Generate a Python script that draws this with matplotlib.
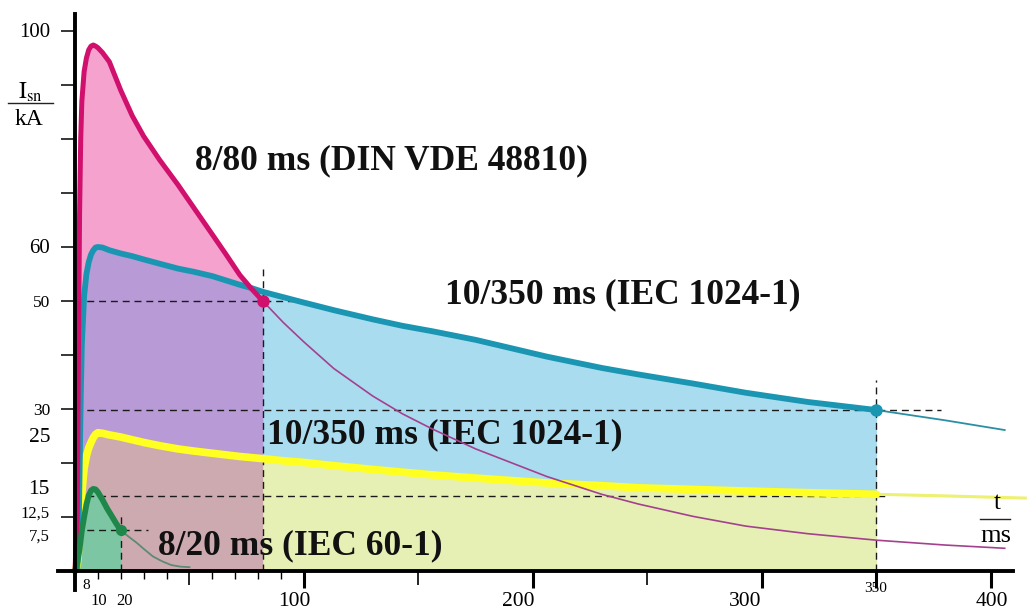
import matplotlib
matplotlib.use("Agg")
import matplotlib.pyplot as plt
from matplotlib.lines import Line2D
import numpy as np

# ---------------- data ----------------
t_ms = [0, 1, 1.5, 2, 2.5, 3, 4, 5, 6, 7, 8, 9, 10, 12, 15, 20, 25, 30, 37, 45,
        52, 60, 66, 72, 77, 82, 91, 100, 113, 130, 143, 156, 175, 206, 230, 246,
        270, 293, 320, 350, 380, 406, 415]
nan = float("nan")
i_8_80 = [0, 10, 40, 66, 80, 87, 92.5, 95, 96.5, 97.2, 97.4, 97.2, 96.9, 96, 94.3,
          89, 84.3, 80.5, 76.1, 71.5, 67.2, 62.3, 58.6, 54.8, 52.3, 50, 46, 42.4, 37.5,
          32.4, 29.1, 26.3, 22.6, 17.5, 14.2, 12.4, 10.1, 8.3, 6.9, 5.7, 4.8, 4.2, nan]
i_10_350 = [0, 0.5, 5, 18, 32, 42, 51, 55, 57.2, 58.6, 59.4, 59.9, 60, 59.9, 59.4,
            58.8, 58.3, 57.7, 56.9, 56, 55.4, 54.6, 53.8, 53, 52.4, 51.7, 50.7, 49.7,
            48.3, 46.6, 45.4, 44.4, 42.8, 39.7, 37.6, 36.4, 34.7, 33, 31.3, 29.8,
            27.9, 26.1, nan]
i_10_350_b = [0, 1, 3.5, 7, 11, 14.5, 19, 21.3, 22.8, 23.8, 24.7, 25.3, 25.6, 25.5,
              25.2, 24.8, 24.3, 23.8, 23.2, 22.6, 22.2, 21.8, 21.5, 21.2, 21.0, 20.8,
              20.4, 20.1, 19.5, 18.8, 18.3, 17.8, 17.2, 16.3, 15.8, 15.4, 15.1, 14.8,
              14.5, 14.2, 13.9, 13.6, 13.5]
t_green = [0, 1, 2, 3, 4, 5, 6, 7, 8, 9, 10, 12, 14, 16, 18, 20, 23, 27, 30, 34, 38,
           42, 46, 50]
i_8_20 = [0, 1.5, 4, 7.5, 10, 12.3, 14, 14.9, 15.2, 15.1, 14.6, 13.2, 11.6, 10.2, 8.8,
          7.5, 6.5, 5.2, 4.1, 2.7, 1.8, 1.1, 0.8, 0.7]

# characteristic points (marked points and the yellow end value)
key_t = [82, 350, 20, 350]
key_i = [50, 29.8, 7.5, 13.8]

# wave labels
wave_labels = ["8/80 ms (DIN VDE 48810)", "10/350 ms (IEC 1024-1)",
               "10/350 ms (IEC 1024-1)", "8/20 ms (IEC 60-1)"]

# axis labels / ticks
y_tick_vals = [10, 20, 30, 40, 50, 60, 70, 80, 90, 100]
y_labels = ["100", "60", "50", "30", "25", "15", "12,5", "7,5"]
y_label_at = [99.8, 59.8, 49.6, 29.6, 24.8, 15.0, 10.7, 6.3]
y_label_size = [15, 15, 12.5, 12.5, 15.5, 15.5, 12, 12]
x_major = [100, 200, 300, 350, 400]
x_mid = [50, 150, 250]
x_minor = [10, 20, 30, 40, 60, 70, 80, 90]
x_labels = ["100", "200", "300", "350", "400"]
x_label_at = [96, 193.5, 292.5, 349.5, 400.5]
x_small_labels = ["8", "10", "20"]
x_small_at = [4.8, 10.5, 21.5]

# ---------------- style ----------------
plt.rcParams["font.family"] = ["Liberation Serif", "DejaVu Serif"]
plt.rcParams["mathtext.fontset"] = "stix"

C_PINK_LINE = "#d0106c"
C_PINK_THIN = "#a3418f"
C_PINK_FILL = "#f5a3ce"
C_PURPLE = "#b79ad6"
C_BLUE_LINE = "#1b96b2"
C_BLUE_THIN = "#2a8fa3"
C_BLUE_FILL = "#aadcf0"
C_YEL_LINE = "#ffff22"
C_YEL_THIN = "#eef070"
C_MAUVE = "#cdaab0"
C_YEL_FILL = "#e6f0b4"
C_GREEN_LINE = "#1f874a"
C_GREEN_THIN = "#5d8a72"
C_GREEN_FILL = "#7cc6a4"

T = np.array(t_ms, dtype=float)
P = np.array(i_8_80, dtype=float)
B = np.array(i_10_350, dtype=float)
Y = np.array(i_10_350_b, dtype=float)
TG = np.array(t_green, dtype=float)
G = np.array(i_8_20, dtype=float)

fig = plt.figure(figsize=(10.3, 6.15), dpi=100)
ax = fig.add_axes([0.05612, 0.04, 0.94155, 0.95350])
ax.set_xlim(-7.5, 416)
ax.set_ylim(-3.6, 105)

t_half_p, t_end = key_t[0], key_t[1]
t_half_g = key_t[2]

# fills
ax.fill_between(T, 0, B, where=T <= t_end, color=C_BLUE_FILL, lw=0, zorder=1)
ax.fill_between(T, 0, P, where=T <= t_half_p, color=C_PINK_FILL, lw=0, zorder=2)
ax.fill_between(T, 0, np.minimum(P, B), where=T <= t_half_p, color=C_PURPLE, lw=0, zorder=3)
ax.fill_between(T, 0, Y, where=T <= t_half_p, color=C_MAUVE, lw=0, zorder=4)
ax.fill_between(T, 0, Y, where=(T >= t_half_p) & (T <= t_end), color=C_YEL_FILL, lw=0, zorder=4)
ax.fill_between(TG, 0, G, where=TG <= t_half_g, color=C_GREEN_FILL, lw=0, zorder=5)

# guide lines
dash = dict(color="#1a1a1a", lw=1.0, ls=(0, (5, 3.5)), zorder=9)
h_ext = [95, 378, 32, 355]
v_ext = [56, 35.4, 10.5]
for ti, ii, he in zip(key_t, key_i, h_ext):
    ax.plot([0, he], [ii, ii], **dash)
for ti, ve in zip(key_t[:3], v_ext):
    ax.plot([ti, ti], [0, ve], **dash)

# curves
m = T <= t_end
ax.plot(T[T >= t_end], Y[T >= t_end], color=C_YEL_THIN, lw=2.2, zorder=10)
ax.plot(T[m], Y[m], color=C_YEL_LINE, lw=5.5, zorder=11, solid_capstyle="round")
ax.plot(T[T >= t_end], B[T >= t_end], color=C_BLUE_THIN, lw=1.3, zorder=10)
ax.plot(T[m], B[m], color=C_BLUE_LINE, lw=4.2, zorder=12, solid_capstyle="round",
        solid_joinstyle="round")
ax.plot(T[T >= t_half_p], P[T >= t_half_p], color=C_PINK_THIN, lw=1.2, zorder=12)
ax.plot(T[T <= t_half_p], P[T <= t_half_p], color=C_PINK_LINE, lw=3.6, zorder=13,
        solid_capstyle="round", solid_joinstyle="round")
ax.plot(TG[TG >= t_half_g], G[TG >= t_half_g], color=C_GREEN_THIN, lw=1.3, zorder=12)
ax.plot(TG[TG <= t_half_g], G[TG <= t_half_g], color=C_GREEN_LINE, lw=4.2, zorder=13,
        solid_capstyle="round", solid_joinstyle="round")

# markers
ax.plot([key_t[0]], [key_i[0]], "o", color=C_PINK_LINE, ms=8, zorder=14)
ax.plot([key_t[1]], [key_i[1]], "o", color=C_BLUE_LINE, ms=8, zorder=14)
ax.plot([key_t[2]], [key_i[2]], "o", color=C_GREEN_LINE, ms=7, zorder=14)

# spines
for s in ("top", "right"):
    ax.spines[s].set_visible(False)
ax.spines["left"].set_position(("data", 0))
ax.spines["bottom"].set_position(("data", 0))
ax.spines["left"].set_bounds(-3.6, 103.2)
ax.spines["bottom"].set_bounds(-7.5, 409.6)
ax.spines["left"].set_linewidth(2.8)
ax.spines["bottom"].set_linewidth(2.8)
ax.spines["left"].set_zorder(20)
ax.spines["bottom"].set_zorder(20)

ax.set_yticks(y_tick_vals)
ax.set_yticklabels([])
ax.tick_params(axis="y", direction="out", length=10, width=1.1)
ax.set_xticks(x_major)
ax.set_xticklabels([])
ax.set_xticks(x_minor, minor=True)
ax.tick_params(axis="x", which="major", direction="out", length=12, width=2.2)
ax.tick_params(axis="x", which="minor", direction="out", length=6, width=1.0)
sec = ax.secondary_xaxis(3.6 / 108.6)
sec.set_xticks(x_mid)
sec.set_xticklabels([])
sec.tick_params(direction="out", length=10, width=1.2)
sec.spines["bottom"].set_visible(False)

# tick label texts
for lab, yv, fs in zip(y_labels, y_label_at, y_label_size):
    ax.text(-10.9, yv, lab, ha="right", va="center", fontsize=fs, clip_on=False)
for lab, xv in zip(x_labels, x_label_at):
    if lab == "350":
        ax.text(xv, -3.3, lab, ha="center", va="center", fontsize=11, clip_on=False)
    else:
        ax.text(xv, -5.6, lab, ha="center", va="center", fontsize=15.5, clip_on=False)
ax.text(x_small_at[0], -2.6, x_small_labels[0], ha="center", va="center", fontsize=11,
        clip_on=False)
for lab, xv in zip(x_small_labels[1:], x_small_at[1:]):
    ax.text(xv, -5.6, lab, ha="center", va="center", fontsize=12, clip_on=False)

# wave labels
lab_pos = [(52.4, 74.3), (161.6, 49.6), (83.8, 23.7), (36.2, 3.0)]
for txt, (xv, yv) in zip(wave_labels, lab_pos):
    ax.text(xv, yv, txt, ha="left", va="baseline", fontsize=25.5, fontweight="bold",
            color="#111111", zorder=8)

# axis unit labels (fractions)
def fx(px):
    return px / 1030.0

def fy(py):
    return 1 - py / 615.0

fig.text(fx(30), fy(92), r"$\mathrm{I}_{\mathrm{sn}}$", ha="center", va="center", fontsize=17)
fig.add_artist(Line2D([fx(8), fx(53)], [fy(103), fy(103)], transform=fig.transFigure,
                      color="#222222", lw=1.0))
fig.text(fx(29), fy(120), "kA", ha="center", va="center", fontsize=17)

fig.text(fx(997), fy(503), "t", ha="center", va="center", fontsize=18)
fig.add_artist(Line2D([fx(980), fx(1010)], [fy(519), fy(519)], transform=fig.transFigure,
                      color="#222222", lw=1.0))
fig.text(fx(996), fy(536), "ms", ha="center", va="center", fontsize=19)

fig.savefig("out.png", dpi=100)
